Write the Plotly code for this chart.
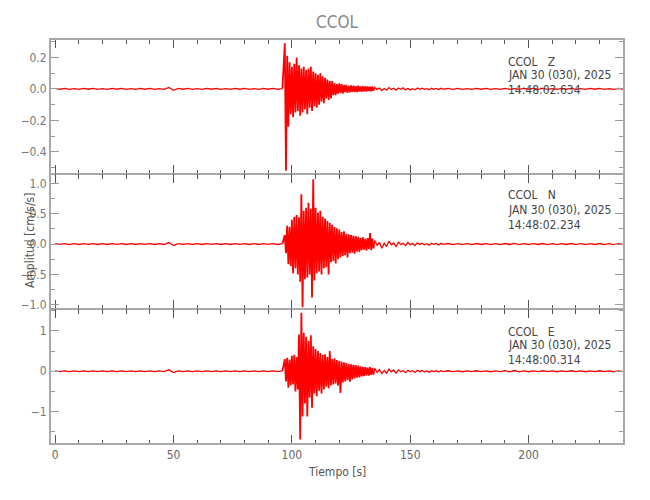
import numpy as np
import plotly.graph_objects as go
from plotly.subplots import make_subplots

# ---------------- data ----------------
# time segments (s): pre-event 0..96 step 2, event 97..134.5 step 0.5,
# coda 135..164 step 1, tail 166..240 step 2
channels = ["Z", "N", "E"]
start_times = ["14:48:02.634", "14:48:02.234", "14:48:00.314"]
date_label = "JAN 30 (030), 2025"
station = "CCOL"

Z_pre = [0.003, -0.002, 0.003, -0.003, 0.002, -0.003, 0.003, -0.002, 0.003, -0.003,
         0.002, -0.003, 0.003, -0.002, 0.003, -0.003, 0.002, -0.003, 0.003, -0.002,
         0.003, -0.003, 0.002, -0.003, 0.010, -0.009, 0.003, -0.002, 0.003, -0.003,
         0.002, -0.003, 0.003, -0.002, 0.003, -0.003, 0.002, -0.003, 0.003, -0.002,
         0.003, -0.003, 0.002, -0.003, 0.003, -0.002, 0.003, -0.003, 0.002]
Z_ev = [0.29, -0.52, 0.21, -0.24, 0.17, -0.16, 0.14, -0.18, 0.16, -0.15,
        0.20, -0.14, 0.15, -0.17, 0.13, -0.15, 0.14, -0.13, 0.12, -0.16,
        0.13, -0.12, 0.14, -0.14, 0.11, -0.11, 0.10, -0.12, 0.09, -0.10,
        0.10, -0.08, 0.08, -0.09, 0.07, -0.06, 0.06, -0.07, 0.05, -0.06,
        0.05, -0.04, 0.035, -0.04, 0.03, -0.03, 0.035, -0.025, 0.03, -0.03,
        0.025, -0.02, 0.025, -0.025, 0.02, -0.022, 0.022, -0.018, 0.02, -0.02,
        0.018, -0.02, 0.02, -0.016, 0.016, -0.018, 0.018, -0.015, 0.015, -0.016,
        0.016, -0.014, 0.014, -0.015, 0.015, -0.012]
Z_coda = [0.010, -0.004, 0.006, -0.010, 0.003, -0.008, 0.009, -0.003, 0.004, -0.008,
          0.006, -0.002, 0.007, -0.006, 0.003, -0.006, 0.002, -0.005, 0.006, -0.002,
          0.005, -0.003, 0.002, -0.005, 0.004, -0.002, 0.003, -0.004, 0.004, -0.002]
Z_post = [0.003, -0.003, 0.003, -0.003, 0.002, -0.003, 0.003, -0.002, 0.003, -0.003,
          0.002, -0.003, 0.003, -0.003, 0.002, -0.003, 0.003, -0.002, 0.003, -0.003,
          0.003, -0.003, 0.002, -0.003, 0.003, -0.002, 0.003, -0.003, 0.002, -0.003,
          0.003, -0.002, 0.003, -0.003, 0.002, -0.003, 0.003, -0.002]

N_pre = [0.007, -0.006, 0.007, -0.008, 0.006, -0.007, 0.008, -0.006, 0.007, -0.007,
         0.006, -0.007, 0.007, -0.006, 0.008, -0.007, 0.006, -0.007, 0.007, -0.006,
         0.007, -0.007, 0.006, -0.007, 0.025, -0.023, 0.007, -0.006, 0.007, -0.007,
         0.006, -0.007, 0.007, -0.006, 0.007, -0.007, 0.006, -0.007, 0.008, -0.006,
         0.007, -0.007, 0.006, -0.007, 0.007, -0.006, 0.007, -0.007, 0.006]
N_ev = [0.15, -0.15, 0.30, -0.33, 0.28, -0.36, 0.40, -0.48, 0.45, -0.40,
        0.48, -0.50, 0.44, -0.62, 0.82, -1.04, 0.55, -0.58, 0.60, -0.55,
        0.68, -0.50, 0.58, -0.88, 1.07, -0.60, 0.60, -0.48, 0.52, -0.45,
        0.55, -0.50, 0.45, -0.40, 0.42, -0.38, 0.38, -0.50, 0.35, -0.30,
        0.32, -0.28, 0.28, -0.32, 0.26, -0.25, 0.24, -0.22, 0.20, -0.20,
        0.21, -0.18, 0.17, -0.22, 0.16, -0.15, 0.15, -0.14, 0.14, -0.16,
        0.13, -0.12, 0.12, -0.13, 0.10, -0.10, 0.11, -0.09, 0.09, -0.11,
        0.10, -0.08, 0.18, -0.10, 0.09, -0.07]
N_coda = [0.06, -0.02, 0.03, -0.07, 0.015, -0.04, 0.05, -0.01, 0.02, -0.04,
          0.03, -0.008, 0.012, -0.025, 0.025, -0.01, 0.008, -0.025, 0.02, -0.006,
          0.015, -0.012, 0.006, -0.02, 0.012, -0.005, 0.01, -0.014, 0.012, -0.006]
N_post = [0.009, -0.008, 0.008, -0.009, 0.007, -0.008, 0.009, -0.007, 0.008, -0.009,
          0.007, -0.008, 0.009, -0.007, 0.010, -0.008, 0.007, -0.009, 0.008, -0.007,
          0.009, -0.008, 0.007, -0.009, 0.008, -0.007, 0.009, -0.008, 0.007, -0.009,
          0.008, -0.007, 0.009, -0.008, 0.007, -0.009, 0.008, -0.007]

E_pre = [0.010, -0.009, 0.010, -0.011, 0.009, -0.010, 0.011, -0.009, 0.010, -0.010,
         0.009, -0.010, 0.011, -0.009, 0.010, -0.010, 0.009, -0.011, 0.010, -0.009,
         0.010, -0.010, 0.009, -0.010, 0.035, -0.032, 0.010, -0.009, 0.010, -0.010,
         0.009, -0.010, 0.010, -0.009, 0.011, -0.010, 0.009, -0.010, 0.010, -0.009,
         0.010, -0.010, 0.009, -0.011, 0.010, -0.009, 0.010, -0.010, 0.009]
E_ev = [0.30, -0.25, 0.33, -0.41, 0.29, -0.35, 0.38, -0.33, 0.41, -0.50,
        0.35, -0.45, 0.91, -1.69, 1.45, -1.12, 0.95, -0.80, 0.85, -1.12,
        0.75, -0.65, 0.89, -0.90, 0.62, -0.55, 0.55, -0.62, 0.50, -0.48,
        0.45, -0.55, 0.40, -0.45, 0.42, -0.38, 0.35, -0.42, 0.50, -0.35,
        0.30, -0.33, 0.32, -0.30, 0.28, -0.35, 0.25, -0.54, 0.24, -0.28,
        0.22, -0.25, 0.20, -0.22, 0.18, -0.26, 0.17, -0.20, 0.16, -0.18,
        0.15, -0.16, 0.14, -0.15, 0.12, -0.13, 0.11, -0.12, 0.10, -0.10,
        0.09, -0.11, 0.10, -0.09, 0.08, -0.08]
E_coda = [0.07, -0.03, 0.04, -0.06, 0.02, -0.05, 0.05, -0.015, 0.03, -0.045,
          0.035, -0.012, 0.02, -0.035, 0.025, -0.01, 0.012, -0.03, 0.025, -0.01,
          0.02, -0.015, 0.008, -0.022, 0.015, -0.008, 0.012, -0.018, 0.014, -0.008]
E_post = [0.012, -0.011, 0.011, -0.012, 0.010, -0.011, 0.012, -0.010, 0.011, -0.012,
          0.010, -0.011, 0.016, -0.015, 0.018, -0.016, 0.011, -0.012, 0.011, -0.010,
          0.012, -0.011, 0.010, -0.012, 0.011, -0.010, 0.012, -0.011, 0.010, -0.012,
          0.011, -0.010, 0.012, -0.011, 0.010, -0.012, 0.011, -0.010]

seg_starts = [0, 97, 135, 166]
seg_steps = [2, 0.5, 1, 2]
series = {
    "Z": [Z_pre, Z_ev, Z_coda, Z_post],
    "N": [N_pre, N_ev, N_coda, N_post],
    "E": [E_pre, E_ev, E_coda, E_post],
}
y_ranges = [[-0.54, 0.317], [-1.07, 1.155], [-1.8, 1.54]]
y_dticks = [0.2, 0.5, 1]
y_minor = [0.1, 0.25, 0.5]
y_formats = [".1f", ".1f", "d"]

for ch in channels:
    assert [len(s) for s in series[ch]] == [49, 76, 30, 38], ch

# ---------------- figure ----------------
# the page body adds an 8px offset, so the figure is laid out 8px up/left
OFF = 8
W, H = 650 - OFF, 500 - OFF
FONT = "DejaVu Sans Condensed, Liberation Sans Narrow, Arial Narrow, sans-serif"
FRAME = "#a8a8a8"
RED = "#ff0000"
seg_widths = [1.3, 1.8, 1.3, 1.3]
fig = make_subplots(rows=3, cols=1, shared_xaxes=True, vertical_spacing=0)

for i, ch in enumerate(channels):
    segs = series[ch]
    times = [s0 + st * np.arange(len(v)) for s0, st, v in zip(seg_starts, seg_steps, segs)]
    for k, (t, v) in enumerate(zip(times, segs)):
        tx, vy = t, np.asarray(v, float)
        if k > 0:  # join to previous segment's last sample
            tx = np.concatenate([[times[k - 1][-1]], t])
            vy = np.concatenate([[segs[k - 1][-1]], vy])
        fig.add_trace(go.Scatter(x=tx, y=vy, mode="lines",
                                 line=dict(color=RED, width=seg_widths[k]),
                                 showlegend=False, hoverinfo="skip"), row=i + 1, col=1)
    fig.update_yaxes(range=y_ranges[i], dtick=y_dticks[i], tick0=0, tickformat=y_formats[i],
                     ticks="inside", ticklen=9, tickcolor="#999", tickwidth=1,
                     minor=dict(dtick=y_minor[i], tick0=0, ticks="inside", ticklen=5, tickcolor="#999"),
                     showline=True, linecolor=FRAME, linewidth=1, mirror="ticks",
                     showgrid=False, zeroline=False,
                     tickfont=dict(family=FONT, size=12, color="#777"),
                     row=i + 1, col=1)
    fig.update_xaxes(range=[-2.2, 240.3], dtick=50, tick0=0,
                     ticks="inside", ticklen=9, tickcolor="#555", tickwidth=1,
                     minor=dict(dtick=10, tick0=0, ticks="inside", ticklen=4.5, tickcolor="#555"),
                     showline=True, linecolor=FRAME, linewidth=1, mirror="ticks",
                     showgrid=False, zeroline=False,
                     showticklabels=(i == 2),
                     tickfont=dict(family=FONT, size=12, color="#666"),
                     row=i + 1, col=1)

H0, H1 = 39, 444   # plot area top/bottom in window pixels
def py(px):
    return (H1 - px) / (H1 - H0)

ann = []
label_rows = [(61.7, 75.0, 90.0), (195.0, 210.0, 225.0), (331.7, 345.0, 360.0)]
for i, ch in enumerate(channels):
    lines = [station + "\u00a0\u00a0\u00a0" + ch, date_label, start_times[i]]
    for txt, ypx in zip(lines, label_rows[i]):
        ann.append(dict(text=txt, xref="paper", yref="paper", x=0.795, y=py(ypx),
                        xanchor="left", yanchor="middle", showarrow=False,
                        font=dict(family=FONT, size=12, color="#444")))
ann.append(dict(text="Tiempo [s]", xref="paper", yref="paper", x=0.5, y=py(471.7),
                xanchor="center", yanchor="middle", showarrow=False,
                font=dict(family=FONT, size=12, color="#555")))
ann.append(dict(text="Amplitud [cm/s/s]", xref="paper", yref="paper", x=(28 - 48) / 576, y=py(240),
                xanchor="center", yanchor="middle", showarrow=False, textangle=-90,
                font=dict(family=FONT, size=12, color="#555")))

fig.update_layout(
    width=W, height=H, autosize=False,
    margin=dict(l=48 - OFF, r=26, t=39 - OFF, b=56),
    paper_bgcolor="white", plot_bgcolor="white",
    title=dict(text=station, x=0.5, xref="paper", xanchor="center", y=1 - (22 - OFF) / H, yanchor="middle",
               font=dict(family=FONT, size=17, color="#888")),
    annotations=ann,
    shapes=[dict(type="rect", xref="paper", yref="paper", x0=0, x1=1, y0=0, y1=1,
                 line=dict(color=FRAME, width=2), layer="above")],
)

fig.write_html("out.html")
